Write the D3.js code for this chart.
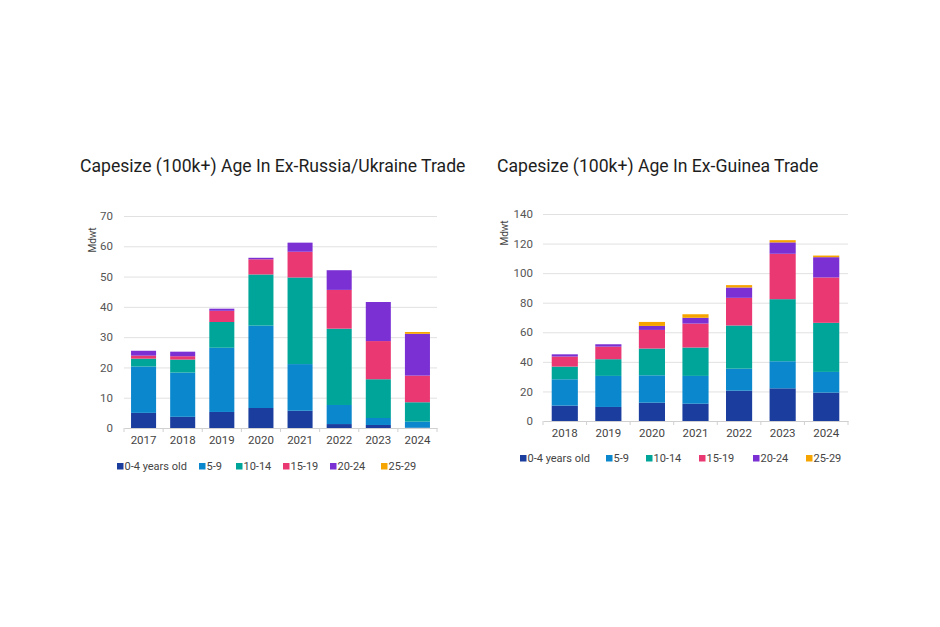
<!DOCTYPE html>
<html>
<head>
<meta charset="utf-8">
<script src="https://cdn.jsdelivr.net/npm/d3@7"></script>
<style>
  body { margin: 0; background: #fff; }
  svg { display: block; }
</style>
</head>
<body>
<svg id="chart" width="940" height="627"></svg>
<script>
// ---- data ----
const seriesNames = ["0-4 years old", "5-9", "10-14", "15-19", "20-24", "25-29"];
const seriesColors = ["#1a3d9e", "#0a87cd", "#00a59a", "#ea3872", "#7a30d3", "#f6a500"];

const leftTitle = "Capesize (100k+) Age In Ex-Russia/Ukraine Trade";
const leftYears = ["2017", "2018", "2019", "2020", "2021", "2022", "2023", "2024"];
const left_0_4   = [5.0, 3.7, 5.3, 6.6, 5.7, 1.3, 1.0, 0.1];
const left_5_9   = [15.3, 14.6, 21.2, 27.2, 15.4, 6.3, 2.3, 2.0];
const left_10_14 = [2.6, 4.3, 8.5, 16.9, 28.6, 25.2, 12.8, 6.4];
const left_15_19 = [1.0, 1.1, 3.7, 5.0, 8.5, 12.8, 12.6, 8.8];
const left_20_24 = [1.6, 1.5, 0.7, 0.5, 3.0, 6.5, 12.9, 13.8];
const left_25_29 = [0, 0, 0, 0, 0, 0, 0, 0.6];
const leftTicks  = [0, 10, 20, 30, 40, 50, 60, 70];

const rightTitle = "Capesize (100k+) Age In Ex-Guinea Trade";
const rightYears = ["2018", "2019", "2020", "2021", "2022", "2023", "2024"];
const right_0_4   = [10.4, 9.5, 12.4, 11.7, 20.5, 22.1, 19.2];
const right_5_9   = [17.8, 21.0, 18.5, 18.8, 14.9, 18.3, 14.0];
const right_10_14 = [8.6, 11.3, 18.1, 19.2, 29.2, 42.0, 33.2];
const right_15_19 = [6.8, 8.5, 12.6, 16.2, 18.7, 30.7, 30.7];
const right_20_24 = [1.5, 1.6, 2.7, 3.9, 7.0, 7.7, 13.7];
const right_25_29 = [0, 0, 2.7, 2.4, 1.6, 1.5, 1.1];
const rightTicks  = [0, 20, 40, 60, 80, 100, 120, 140];

const yLabel = "Mdwt";

// ---- drawing ----
const svg = d3.select("#chart");
const FONT = "Roboto, 'Liberation Sans', Arial, sans-serif";

function buildRows(years, cols) {
  return years.map((y, i) => {
    const r = { year: y };
    seriesNames.forEach((s, k) => r[s] = cols[k][i]);
    return r;
  });
}

function drawChart(cfg) {
  const g = svg.append("g");
  const rows = buildRows(cfg.years, cfg.cols);
  const x = d3.scaleBand().domain(cfg.years).range([cfg.x0, cfg.x1]).paddingInner(cfg.pad).paddingOuter(cfg.pad / 2);
  const y = d3.scaleLinear().domain([0, cfg.ticks[cfg.ticks.length - 1]]).range([cfg.y0, cfg.y1]);

  // title
  g.append("text").attr("x", cfg.titleX).attr("y", cfg.titleY)
    .attr("font-family", FONT).attr("font-size", 17.6).attr("fill", "#1e1e1e")
    .text(cfg.title);

  // gridlines
  g.append("g").selectAll("line").data(cfg.ticks.filter(t => t > 0)).join("line")
    .attr("x1", cfg.x0).attr("x2", cfg.x1)
    .attr("y1", d => y(d) + 0.5).attr("y2", d => y(d) + 0.5)
    .attr("stroke", "#e1e1e1").attr("stroke-width", 1);

  // y axis labels
  const yAxis = d3.axisLeft(y).tickValues(cfg.ticks).tickSize(0).tickPadding(0);
  const ya = g.append("g").attr("transform", `translate(${cfg.yLabX},0)`).call(yAxis);
  ya.select(".domain").remove();
  ya.selectAll("text").attr("font-family", FONT).attr("font-size", 11.5).attr("fill", "#555");

  // y title
  g.append("text").attr("transform", `translate(${cfg.yTitleX},${cfg.yTitleY}) rotate(-90)`)
    .attr("text-anchor", "middle").attr("font-family", FONT).attr("font-size", 10).attr("fill", "#444")
    .text(yLabel);

  // stacks
  const stack = d3.stack().keys(seriesNames)(rows);
  g.append("g").selectAll("g").data(stack).join("g")
    .attr("fill", (d, i) => seriesColors[i])
    .selectAll("rect").data(d => d).join("rect")
    .attr("x", d => x(d.data.year))
    .attr("width", x.bandwidth())
    .attr("y", d => y(d[1]))
    .attr("height", d => Math.max(0, y(d[0]) - y(d[1])));

  // x axis
  const xAxis = d3.axisBottom(x).tickSize(0).tickPadding(cfg.xPad);
  const xa = g.append("g").attr("transform", `translate(0,${cfg.y0})`).call(xAxis);
  xa.select(".domain").attr("stroke", "#d0d0d0");
  xa.selectAll("text").attr("font-family", FONT).attr("font-size", 11.5).attr("fill", "#444");
  // category separator ticks
  const step = x.step();
  const seps = d3.range(cfg.years.length + 1).map(i => cfg.x0 + i * step);
  xa.append("g").selectAll("line").data(seps).join("line")
    .attr("x1", d => d).attr("x2", d => d).attr("y1", 0).attr("y2", 4)
    .attr("stroke", "#d0d0d0");

  // legend
  const lg = g.append("g").attr("transform", `translate(0,${cfg.legY})`);
  seriesNames.forEach((s, i) => {
    const lx = cfg.legX[i];
    lg.append("rect").attr("x", lx).attr("y", -7).attr("width", 6.5).attr("height", 6.5).attr("fill", seriesColors[i]);
    lg.append("text").attr("x", lx + 7.5).attr("y", 0).attr("font-family", FONT).attr("font-size", 11)
      .attr("fill", "#444").text(s);
  });
}

drawChart({
  title: leftTitle, titleX: 80, titleY: 172,
  years: leftYears,
  cols: [left_0_4, left_5_9, left_10_14, left_15_19, left_20_24, left_25_29],
  ticks: leftTicks,
  x0: 124, x1: 437, y0: 428, y1: 216, pad: 0.36,
  yLabX: 113, yTitleX: 96, yTitleY: 240,
  xPad: 8, legY: 470,
  legX: [117, 199, 236, 283, 330, 381]
});

drawChart({
  title: rightTitle, titleX: 497, titleY: 172,
  years: rightYears,
  cols: [right_0_4, right_5_9, right_10_14, right_15_19, right_20_24, right_25_29],
  ticks: rightTicks,
  x0: 543, x1: 848, y0: 421, y1: 214, pad: 0.4,
  yLabX: 533, yTitleX: 508, yTitleY: 233,
  xPad: 8, legY: 462,
  legX: [520, 606, 646, 699, 753, 806]
});
</script>
</body>
</html>
